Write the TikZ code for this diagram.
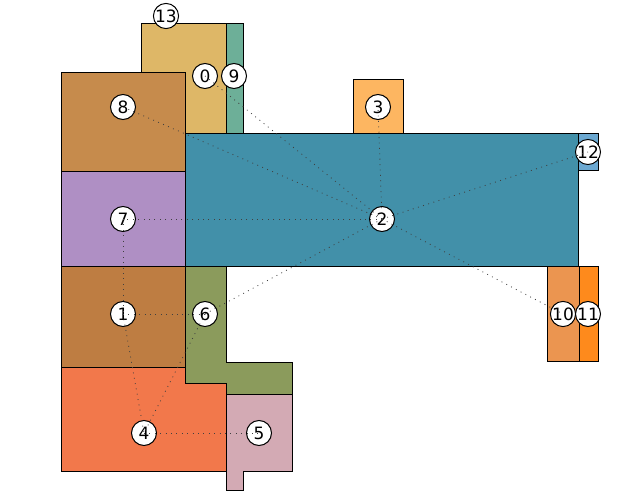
\documentclass[tikz,border=0pt]{standalone}
\usepackage{fontspec}
\setmainfont{DejaVu Sans}
\begin{document}
\begin{tikzpicture}[x=1pt,y=-1pt,
  room/.style={draw=black,line width=1pt,line join=miter},
  vtx/.style={circle,draw=black,fill=white,line width=1pt,minimum size=25pt,inner sep=0pt,font=\fontsize{17}{19}\selectfont},
  link/.style={draw=black!75,line width=0.8pt,dash pattern=on 0.9pt off 4.5pt}]
\definecolor{c13}{HTML}{DEB767}
\definecolor{c9}{HTML}{6DAF98}
\definecolor{c8}{HTML}{C68B4C}
\definecolor{c7}{HTML}{AF8FC4}
\definecolor{c1}{HTML}{BE7D42}
\definecolor{c4}{HTML}{F2784B}
\definecolor{c6}{HTML}{8B9B5C}
\definecolor{c5}{HTML}{D3AAB4}
\definecolor{c2}{HTML}{4290A9}
\definecolor{c3}{HTML}{FDB661}
\definecolor{c12}{HTML}{6BA8D1}
\definecolor{c10}{HTML}{EB9550}
\definecolor{c11}{HTML}{FE8A1C}
\useasboundingbox (0,0) rectangle (640,500);
% rooms
\path[room,fill=c13] (141,24) rectangle (226,134);
\path[room,fill=c9] (226,24) rectangle (243,134);
\path[room,fill=c3] (353,80) rectangle (403,134);
\path[room,fill=c8] (61,73) rectangle (185,172);
\path[room,fill=c7] (61,172) rectangle (185,266);
\path[room,fill=c1] (61,266) rectangle (185,367);
\path[room,fill=c2] (185,134) rectangle (578,266);
\path[room,fill=c12] (578,134) rectangle (598,171);
\path[room,fill=c10] (547,266) rectangle (579,361);
\path[room,fill=c11] (579,266) rectangle (598,361);
\path[room,fill=c6] (185,266) -- (226,266) -- (226,362) -- (292,362) -- (292,394) -- (226,394) -- (226,383) -- (185,383) -- cycle;
\path[room,fill=c4] (61,367) -- (185,367) -- (185,383) -- (226,383) -- (226,471) -- (61,471) -- cycle;
\path[room,fill=c5] (226,394) -- (292,394) -- (292,471) -- (243,471) -- (243,490) -- (226,490) -- cycle;
% vertices
\node[vtx] (n13) at (166,16) {13};
\node[vtx] (n0) at (205,76) {0};
\node[vtx] (n9) at (234,76) {9};
\node[vtx] (n8) at (123,107) {8};
\node[vtx] (n3) at (378,107) {3};
\node[vtx] (n12) at (588,152) {12};
\node[vtx] (n7) at (123,219) {7};
\node[vtx] (n2) at (382,219) {2};
\node[vtx] (n1) at (123,314) {1};
\node[vtx] (n6) at (205,314) {6};
\node[vtx] (n10) at (563,314) {10};
\node[vtx] (n11) at (588,314) {11};
\node[vtx] (n4) at (144,433) {4};
\node[vtx] (n5) at (259,433) {5};
% links
\draw[link] (n2.center) -- (n0.center);
\draw[link] (n2.center) -- (n8.center);
\draw[link] (n2.center) -- (n3.center);
\draw[link] (n2.center) -- (n12.center);
\draw[link] (n2.center) -- (n7.center);
\draw[link] (n2.center) -- (n6.center);
\draw[link] (n2.center) -- (n10.center);
\draw[link] (n7.center) -- (n1.center);
\draw[link] (n1.center) -- (n6.center);
\draw[link] (n1.center) -- (n4.center);
\draw[link] (n6.center) -- (n4.center);
\draw[link] (n4.center) -- (n5.center);
\end{tikzpicture}
\end{document}
